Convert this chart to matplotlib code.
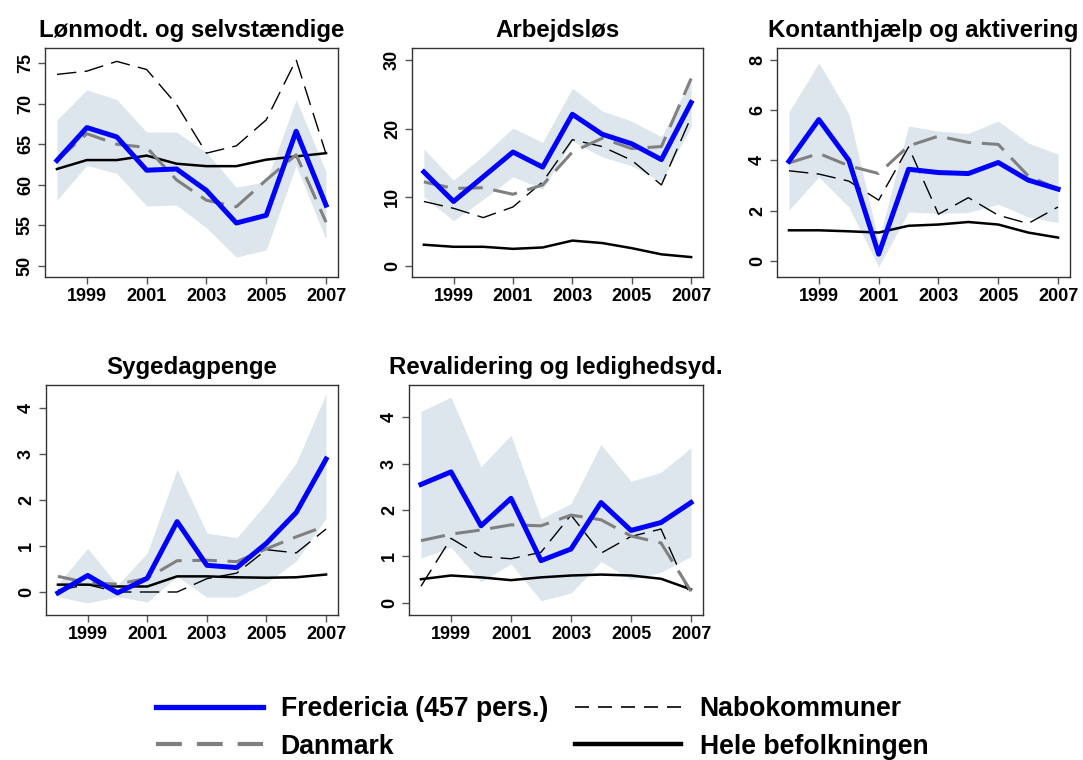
import matplotlib
matplotlib.use("Agg")
import matplotlib.pyplot as plt
from matplotlib.lines import Line2D

plt.rcParams['font.family'] = ['Liberation Sans', 'DejaVu Sans']

years = [1998, 1999, 2000, 2001, 2002, 2003, 2004, 2005, 2006, 2007]
year_ticks = [1999, 2001, 2003, 2005, 2007]

titles = ["Lønmodt. og selvstændige", "Arbejdsløs", "Kontanthjælp og aktivering",
          "Sygedagpenge", "Revalidering og ledighedsyd."]

# Fredericia (457 pers.)
fred_lon = [63.0, 67.05, 65.9, 61.8, 61.95, 59.3, 55.3, 56.25, 66.6, 57.5]
fred_arb = [13.7, 9.4, 13.0, 16.6, 14.4, 22.1, 19.2, 17.8, 15.5, 23.8]
fred_kon = [3.97, 5.63, 4.01, 0.27, 3.65, 3.52, 3.48, 3.92, 3.22, 2.86]
fred_syg = [-0.02, 0.36, -0.02, 0.30, 1.53, 0.58, 0.53, 1.06, 1.73, 2.89]
fred_rev = [2.55, 2.82, 1.66, 2.25, 0.91, 1.16, 2.16, 1.56, 1.73, 2.16]

# Confidence band for Fredericia
lo_lon = [58.1, 62.4, 61.4, 57.4, 57.5, 54.7, 51.1, 52.0, 62.4, 53.25]
hi_lon = [68.0, 71.7, 70.5, 66.5, 66.5, 64.0, 59.7, 60.4, 70.5, 61.6]
lo_arb = [10.1, 6.6, 9.7, 13.0, 11.2, 18.2, 15.9, 14.6, 12.25, 20.3]
hi_arb = [17.0, 12.5, 16.1, 20.1, 18.0, 25.9, 22.6, 21.1, 18.8, 27.2]
lo_kon = [2.02, 3.35, 2.15, -0.24, 1.95, 1.89, 1.93, 2.26, 1.75, 1.53]
hi_kon = [5.94, 7.89, 5.87, 0.80, 5.37, 5.17, 5.08, 5.57, 4.70, 4.25]
lo_syg = [-0.10, -0.24, -0.10, -0.22, 0.34, -0.11, -0.11, 0.19, 0.68, 1.60]
hi_syg = [0.18, 0.95, 0.15, 0.85, 2.67, 1.28, 1.18, 1.93, 2.81, 4.31]
lo_rev = [0.96, 1.20, 0.45, 0.84, 0.05, 0.21, 0.89, 0.51, 0.66, 1.00]
hi_rev = [4.12, 4.43, 2.93, 3.61, 1.81, 2.14, 3.41, 2.62, 2.81, 3.34]

# Danmark
dk_lon = [63.0, 66.3, 65.0, 64.6, 60.6, 58.1, 57.3, 60.6, 63.7, 55.4]
dk_arb = [12.25, 11.3, 11.4, 10.45, 11.8, 16.6, 18.6, 17.1, 17.4, 27.3]
dk_kon = [3.90, 4.28, 3.79, 3.48, 4.58, 4.97, 4.72, 4.64, 3.39, 2.86]
dk_syg = [0.34, 0.20, 0.17, 0.30, 0.68, 0.69, 0.66, 0.94, 1.20, 1.44]
dk_rev = [1.34, 1.48, 1.57, 1.68, 1.66, 1.89, 1.79, 1.44, 1.29, 0.25]

# Nabokommuner
nabo_lon = [73.6, 74.0, 75.2, 74.2, 69.9, 63.9, 64.8, 68.0, 75.4, 63.8]
nabo_arb = [9.4, 8.4, 7.05, 8.6, 12.25, 18.4, 17.4, 15.4, 11.8, 21.7]
nabo_kon = [3.59, 3.46, 3.18, 2.42, 4.54, 1.86, 2.52, 1.82, 1.49, 2.15]
nabo_syg = [0.04, 0.16, 0.0, 0.0, 0.0, 0.29, 0.41, 0.92, 0.85, 1.37]
nabo_rev = [0.36, 1.39, 1.00, 0.95, 1.09, 1.89, 1.07, 1.43, 1.59, 0.13]

# Hele befolkningen
hele_lon = [61.95, 63.05, 63.05, 63.6, 62.6, 62.3, 62.3, 63.1, 63.5, 63.9]
hele_arb = [3.1, 2.8, 2.8, 2.5, 2.7, 3.7, 3.35, 2.6, 1.7, 1.3]
hele_kon = [1.22, 1.22, 1.18, 1.13, 1.40, 1.45, 1.55, 1.45, 1.13, 0.93]
hele_syg = [0.16, 0.16, 0.12, 0.12, 0.34, 0.34, 0.32, 0.31, 0.32, 0.38]
hele_rev = [0.51, 0.59, 0.55, 0.49, 0.55, 0.59, 0.61, 0.59, 0.52, 0.29]

y_ticks = [[50, 55, 60, 65, 70, 75], [0, 10, 20, 30], [0, 2, 4, 6, 8],
           [0, 1, 2, 3, 4], [0, 1, 2, 3, 4]]
y_lims = [(48.65, 76.85), (-1.6, 31.75), (-0.64, 8.48), (-0.5, 4.5), (-0.26, 4.69)]

panels = [
    (fred_lon, lo_lon, hi_lon, dk_lon, nabo_lon, hele_lon),
    (fred_arb, lo_arb, hi_arb, dk_arb, nabo_arb, hele_arb),
    (fred_kon, lo_kon, hi_kon, dk_kon, nabo_kon, hele_kon),
    (fred_syg, lo_syg, hi_syg, dk_syg, nabo_syg, hele_syg),
    (fred_rev, lo_rev, hi_rev, dk_rev, nabo_rev, hele_rev),
]

W, H = 1083, 760
# axes boxes in pixels: left, top, right, bottom
boxes = [(45, 48, 338, 277), (412, 48, 703, 277), (777, 48, 1070, 277),
         (46, 385, 338, 615), (409, 385, 703, 615)]

BAND = "#dde6ec"
BLUE = "#0000ff"
GRAY = "#808080"

fig = plt.figure(figsize=(W / 100, H / 100), dpi=100)

for i, (box, data) in enumerate(zip(boxes, panels)):
    l, t, r, b = box
    ax = fig.add_axes([l / W, 1 - b / H, (r - l) / W, (b - t) / H])
    fred, lo, hi, dk, nabo, hele = data
    ax.fill_between(years, lo, hi, color=BAND, lw=0, zorder=1)
    ax.plot(years, hele, color="black", lw=1.8, zorder=2)
    ax.plot(years, nabo, color="black", lw=1.0, dashes=(14, 6), zorder=3)
    ax.plot(years, dk, color=GRAY, lw=2.2, dashes=(8, 3.5), zorder=4)
    ax.plot(years, fred, color=BLUE, lw=3.6, zorder=5)
    ax.set_xlim(1997.6, 2007.4)
    ax.set_ylim(*y_lims[i])
    ax.set_xticks(year_ticks)
    ax.set_xticklabels([str(y) for y in year_ticks])
    ax.set_yticks(y_ticks[i])
    ax.set_yticklabels([str(v) for v in y_ticks[i]], rotation=90, va="center")
    ax.tick_params(axis="both", labelsize=13, length=5, width=1, color="#555555", pad=3)
    for lab in ax.get_xticklabels() + ax.get_yticklabels():
        lab.set_fontweight("bold")
    for sp in ax.spines.values():
        sp.set_color("#333333")
        sp.set_linewidth(1.0)
    ax.set_title(titles[i], fontsize=17.3, fontweight="bold", pad=8)

handles = [
    Line2D([], [], color=BLUE, lw=3.8),
    Line2D([], [], color=GRAY, lw=3.0, dashes=(6.2, 3.6)),
    Line2D([], [], color="black", lw=1.2, dashes=(8.4, 5.4)),
    Line2D([], [], color="black", lw=3.2),
]
labels = ["Fredericia (457 pers.)", "Danmark", "Nabokommuner", "Hele befolkningen"]
fig.legend(handles, labels, ncol=2, loc="center", bbox_to_anchor=(542 / W, 1 - 728 / H),
           frameon=False, prop={"size": 19.2, "weight": "bold"},
           handlelength=4.0, handletextpad=0.68, columnspacing=1.0, labelspacing=0.42)

fig.savefig("out.png", dpi=100)
